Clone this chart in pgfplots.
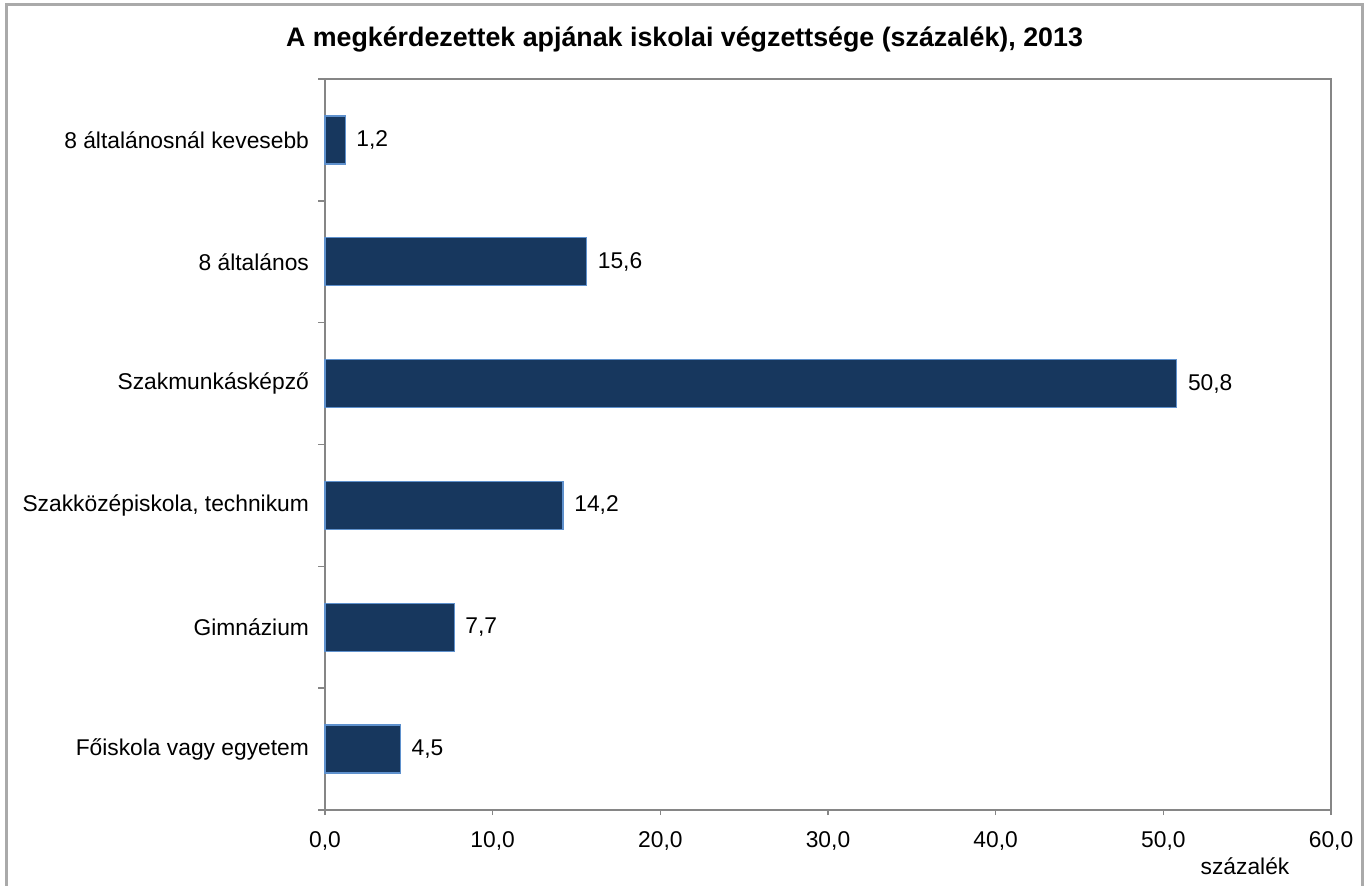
\documentclass[border=0pt]{standalone}
\usepackage{pgfplots}
\pgfplotsset{compat=1.18}
\usepackage{fontspec}
\setmainfont{Liberation Sans}
\definecolor{barfill}{RGB}{23,55,94}
\definecolor{baredge}{RGB}{95,145,205}
\definecolor{axgray}{RGB}{134,134,134}
\definecolor{framegray}{RGB}{170,170,170}
\begin{document}
\begin{tikzpicture}[x=0.5pt,y=0.5pt]
\useasboundingbox (0,0) rectangle (1369,885);
\clip (0,0) rectangle (1369,885);
\draw[framegray, line width=1.2pt] (6.5,-20) rectangle (1362.5,880.5);
\begin{axis}[
  at={(162.5pt,37.5pt)}, anchor=south west,
  scale only axis, width=503pt, height=365.5pt,
  xbar, bar width=24pt,
  xmin=0, xmax=60, ymin=0.5, ymax=6.5,
  xtick={0,10,...,60},
  ytick={1,...,6},
  yticklabels={Főiskola vagy egyetem,Gimnázium,{Szakközépiskola, technikum},Szakmunkásképző,8 általános,8 általánosnál kevesebb},
  minor ytick={0.5,1.5,...,6.5},
  tick align=outside,
  major tick length=2.5pt, minor tick length=3.5pt,
  major y tick style={draw=none},
  xtick pos=bottom, ytick pos=left,
  axis line style={axgray, line width=0.8pt},
  every tick/.style={axgray, line width=0.8pt},
  minor tick style={axgray, line width=0.8pt},
  xtick style={axgray, line width=0.8pt},
  tick label style={font=\fontsize{11.4}{13}\selectfont, text=black},
  yticklabel style={xshift=-2pt},
  xticklabel style={yshift=-5pt, /pgf/number format/.cd, fixed, fixed zerofill, precision=1, use comma, assume math mode=true},
  nodes near coords,
  nodes near coords style={font=\fontsize{11.4}{13}\selectfont, anchor=west, xshift=2pt, /pgf/number format/.cd, fixed, fixed zerofill, precision=1, use comma, assume math mode=true},
  clip=false,
]
\addplot[fill=barfill, draw=baredge, line width=0.6pt] coordinates {
  (4.5,1) (7.7,2) (14.2,3) (50.8,4) (15.6,5) (1.2,6)
};
\end{axis}
\node[font=\bfseries\fontsize{13.4}{15}\selectfont] at (684.5,845) {A megkérdezettek apjának iskolai végzettsége (százalék), 2013};
\node[font=\fontsize{11.4}{13}\selectfont] at (1245,19) {százalék};
\end{tikzpicture}
\end{document}
